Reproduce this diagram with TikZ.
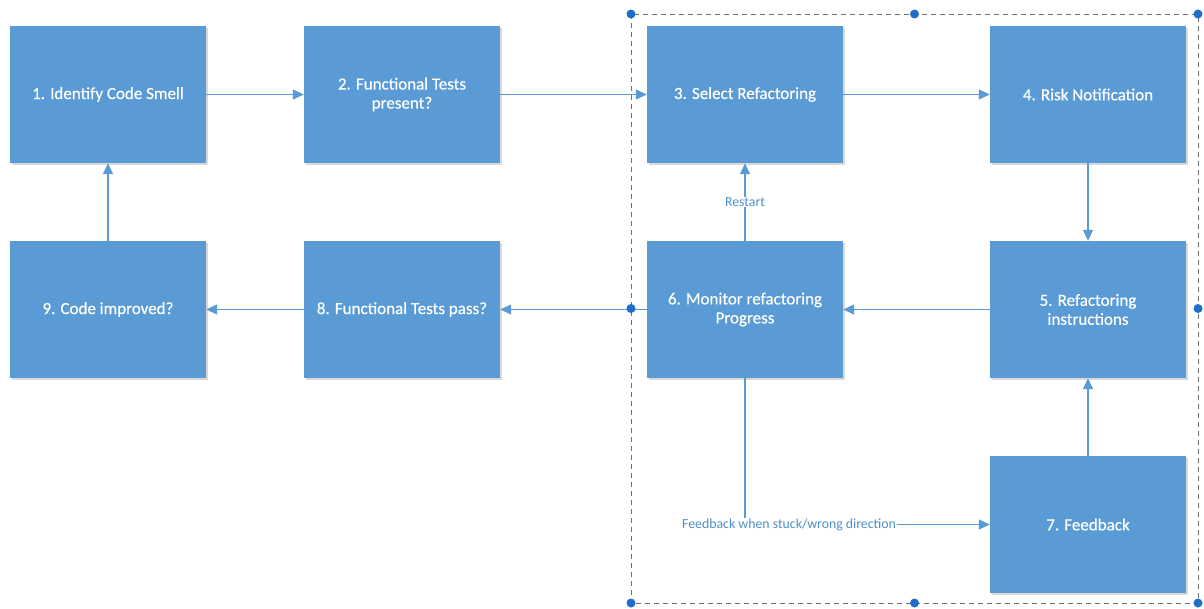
\documentclass[tikz,border=0pt]{standalone}
\usepackage{fontspec}
\setmainfont{Carlito}
\newfontfamily\boxfont[FakeBold=0.4]{Carlito}
\usetikzlibrary{arrows.meta,shadows}
\definecolor{boxblue}{HTML}{5B9BD5}
\definecolor{labelblue}{HTML}{4F8FCB}
\definecolor{handleblue}{HTML}{1E6FCC}
\definecolor{framegray}{HTML}{6F6F6F}
\begin{document}
\begin{tikzpicture}[x=1pt,y=-1pt,
  stepbox/.style={fill=boxblue, minimum width=196pt, minimum height=137pt,
    text=white, font=\boxfont\fontsize{17}{19}\selectfont, align=center, inner sep=0pt,
    drop shadow={shadow xshift=1.5pt, shadow yshift=-1.5pt, opacity=0.25, fill=black!60}},
  link/.style={draw=boxblue, line width=1.3pt, -{Triangle[length=11pt,width=10pt]}},
  lbl/.style={fill=white, text=labelblue, font=\fontsize{13.8}{16}\selectfont, inner sep=1pt},
  handle/.style={circle, fill=handleblue, minimum size=9pt, inner sep=0pt},
  frame/.style={draw=framegray, line width=0.8pt, dash pattern=on 5pt off 4pt}]
\useasboundingbox (0,0) rectangle (1204,608);

% selection frame around the refactoring loop
\draw[frame] (631,14) rectangle (1198,603);

% process steps
\node[stepbox] (s1) at (108,94.5)  {1. Identify Code Smell};
\node[stepbox] (s2) at (402,94.5)  {2. Functional Tests\\present?};
\node[stepbox] (s3) at (745,94.5)  {3. Select Refactoring};
\node[stepbox] (s4) at (1088,94.5) {4. Risk Notification};
\node[stepbox] (s9) at (108,309.5) {9. Code improved?};
\node[stepbox] (s8) at (402,309.5) {8. Functional Tests pass?};
\node[stepbox] (s6) at (745,309.5) {6. Monitor refactoring\\Progress};
\node[stepbox] (s5) at (1088,309.5) {5. Refactoring\\instructions};
\node[stepbox] (s7) at (1088,524.5) {7. Feedback};

% connectors
\draw[link] (s1) -- (s2);
\draw[link] (s2) -- (s3);
\draw[link] (s3) -- (s4);
\draw[link] (s4) -- (s5);
\draw[link] (s5) -- (s6);
\draw[link] (s6) -- node[lbl] {Restart} (s3);
\draw[link] (s6) -- (s8);
\draw[link] (s8) -- (s9);
\draw[link] (s9) -- (s1);
\draw[link] (s7) -- (s5);
\draw[link] (s6.south) |- node[lbl, pos=0.59] {Feedback when stuck/wrong direction} (s7.west);

% frame handles
\foreach \hx/\hy [count=\i] in {631/14, 914.5/14, 1198/14, 631/308.5, 1198/308.5, 631/603, 914.5/603, 1198/603}
  \node[handle] (h\i) at (\hx,\hy) {};
\end{tikzpicture}
\end{document}
